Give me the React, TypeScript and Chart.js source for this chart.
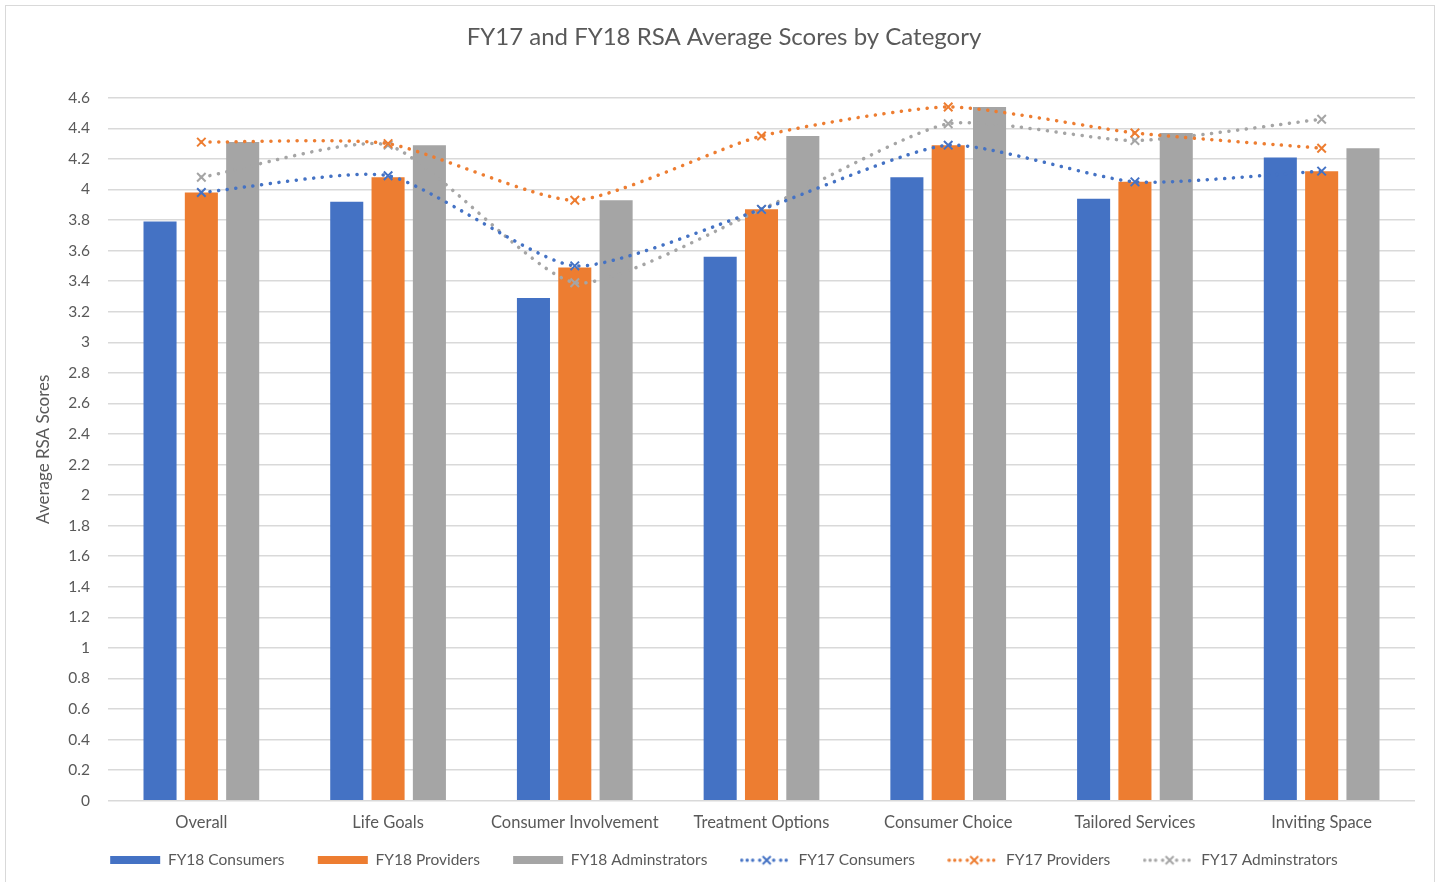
import React, { useEffect, useRef } from "react";
import { Chart, registerables } from "chart.js";

Chart.register(...registerables);

const categories = [
  "Overall",
  "Life Goals",
  "Consumer Involvement",
  "Treatment Options",
  "Consumer Choice",
  "Tailored Services",
  "Inviting Space",
];

const fy18Consumers = [3.79, 3.92, 3.29, 3.56, 4.08, 3.94, 4.21];
const fy18Providers = [3.98, 4.08, 3.49, 3.87, 4.29, 4.05, 4.12];
const fy18Admins = [4.31, 4.29, 3.93, 4.35, 4.54, 4.37, 4.27];
const fy17Consumers = [3.98, 4.09, 3.5, 3.87, 4.29, 4.05, 4.12];
const fy17Providers = [4.31, 4.3, 3.93, 4.35, 4.54, 4.37, 4.27];
const fy17Admins = [4.08, 4.29, 3.39, 3.87, 4.43, 4.32, 4.46];

const seriesNames = [
  "FY18 Consumers",
  "FY18 Providers",
  "FY18 Adminstrators",
  "FY17 Consumers",
  "FY17 Providers",
  "FY17 Adminstrators",
];

const BLUE = "#4472C4";
const ORANGE = "#ED7D31";
const GRAY = "#A5A5A5";
const TEXT = "#595959";
const FONT = "Lato, 'Open Sans', sans-serif";

const ICON_W = 52;

function barIcon(color: string) {
  const c = document.createElement("canvas");
  c.width = ICON_W;
  c.height = 8;
  const ctx = c.getContext("2d")!;
  ctx.fillStyle = color;
  ctx.fillRect(1, 0, 50, 8);
  return c;
}

function lineIcon(color: string) {
  const c = document.createElement("canvas");
  c.width = ICON_W;
  c.height = 12;
  const ctx = c.getContext("2d")!;
  ctx.fillStyle = color;
  const dots = [2, 7.5, 13, 20, 34, 41, 46.5];
  for (const x of dots) {
    ctx.beginPath();
    ctx.arc(x, 6, 1.7, 0, Math.PI * 2);
    ctx.fill();
  }
  ctx.strokeStyle = color;
  ctx.lineWidth = 2;
  const a = 23;
  const b = 31;
  ctx.beginPath();
  ctx.moveTo(a, 2);
  ctx.lineTo(b, 10);
  ctx.moveTo(b, 2);
  ctx.lineTo(a, 10);
  ctx.stroke();
  return c;
}

export default function App() {
  const ref = useRef<HTMLCanvasElement | null>(null);

  useEffect(() => {
    if (!ref.current) return;
    const icons = [
      barIcon(BLUE),
      barIcon(ORANGE),
      barIcon(GRAY),
      lineIcon(BLUE),
      lineIcon(ORANGE),
      lineIcon(GRAY),
    ];
    const lineDs = (label: string, data: number[], color: string) => ({
      type: "line" as const,
      label,
      data,
      borderColor: color,
      backgroundColor: color,
      borderWidth: 3.5,
      borderDash: [0.1, 8.6],
      borderCapStyle: "round" as const,
      tension: 0.2,
      fill: false,
      pointStyle: "crossRot" as const,
      pointRadius: 6,
      pointBorderWidth: 2,
      pointBorderColor: color,
      order: 0,
    });
    const barDs = (label: string, data: number[], color: string) => ({
      type: "bar" as const,
      label,
      data,
      backgroundColor: color,
      borderWidth: 0,
      categoryPercentage: 0.664,
      barPercentage: 0.8,
      order: 1,
    });

    const lastIndex = seriesNames.length - 1;

    const chart = new Chart(ref.current, {
      type: "bar",
      data: {
        labels: categories,
        datasets: [
          barDs(seriesNames[0], fy18Consumers, BLUE),
          barDs(seriesNames[1], fy18Providers, ORANGE),
          barDs(seriesNames[2], fy18Admins, GRAY),
          lineDs(seriesNames[3], fy17Consumers, BLUE),
          lineDs(seriesNames[4], fy17Providers, ORANGE),
          lineDs(seriesNames[5], fy17Admins, GRAY),
        ] as any,
      },
      options: {
        animation: false,
        responsive: false,
        maintainAspectRatio: false,
        layout: { padding: { left: 33, right: 27, top: 0, bottom: 4 } },
        plugins: {
          tooltip: { enabled: false },
          title: {
            display: true,
            text: "FY17 and FY18 RSA Average Scores by Category",
            color: TEXT,
            font: { family: FONT, size: 24, weight: "normal" },
            padding: { top: 23, bottom: 46 },
          },
          legend: {
            position: "bottom",
            labels: {
              usePointStyle: true,
              pointStyleWidth: 50,
              color: TEXT,
              font: { family: FONT, size: 15.5 },
              padding: 10,
              sort: (a: any, b: any) => a.datasetIndex - b.datasetIndex,
              generateLabels: (chart: any) => {
                const items = Chart.defaults.plugins.legend.labels.generateLabels(chart);
                return items.map((it: any) => ({
                  ...it,
                  text:
                    it.datasetIndex === lastIndex
                      ? it.text
                      : it.text + "\u2002\u2002\u2002",
                  pointStyle: icons[it.datasetIndex],
                  lineWidth: 0,
                }));
              },
            },
          },
        },
        scales: {
          x: {
            grid: { display: false },
            border: { display: false },
            afterFit: (scale: any) => {
              scale.height += 6;
            },
            ticks: {
              color: TEXT,
              font: { family: FONT, size: 16.5 },
              maxRotation: 0,
              autoSkip: false,
              padding: 4,
            },
          },
          y: {
            min: 0,
            max: 4.6,
            grid: { color: "#D9D9D9", lineWidth: 1.5, drawTicks: false },
            border: { display: false },
            afterFit: (scale: any) => {
              scale.width = 75;
            },
            ticks: {
              stepSize: 0.2,
              color: TEXT,
              font: { family: FONT, size: 15.5 },
              padding: 18,
              callback: (v: any) => String(Math.round(Number(v) * 10) / 10),
            },
            title: {
              display: true,
              text: "Average RSA Scores",
              color: TEXT,
              font: { family: FONT, size: 17 },
              padding: { top: 0, bottom: 0 },
            },
          },
        },
      },
    });
    return () => chart.destroy();
  }, []);

  return (
    <div
      style={{
        position: "absolute",
        left: 0,
        top: 0,
        width: 1442,
        height: 882,
        background: "#fff",
      }}
    >
      <div
        style={{
          position: "absolute",
          left: 5,
          top: 5,
          width: 1430,
          height: 880,
          border: "1px solid #D9D9D9",
          boxSizing: "border-box",
        }}
      />
      <canvas
        ref={ref}
        width={1442}
        height={882}
        style={{ position: "absolute", left: 0, top: 0 }}
      />
    </div>
  );
}
